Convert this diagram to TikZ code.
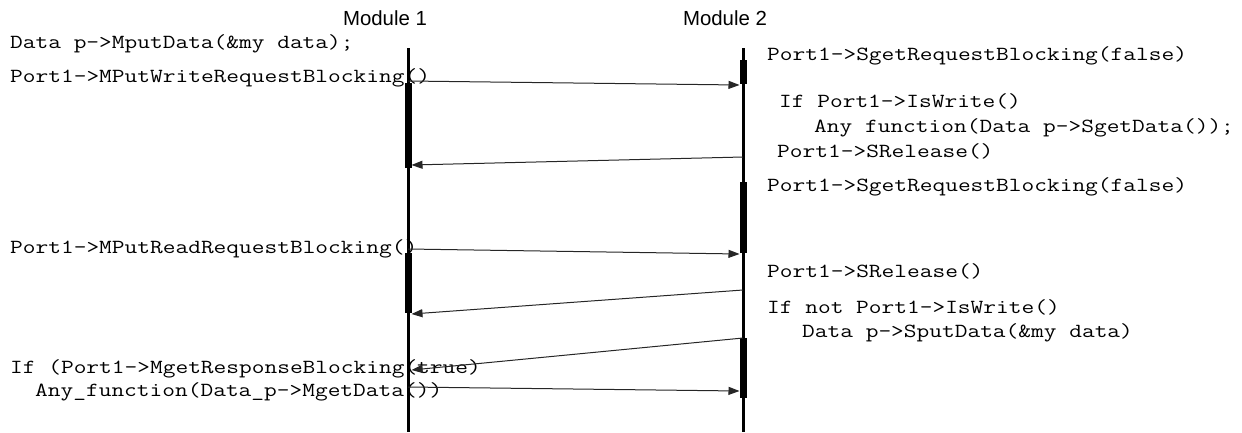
\documentclass[tikz,border=0pt]{standalone}
\usepackage{fontspec}
\setmainfont{Liberation Sans}
\setmonofont[FakeStretch=1.235]{Latin Modern Mono}
\usetikzlibrary{arrows.meta}
\begin{document}
\begin{tikzpicture}[x=1pt,y=-1pt,
  code/.style={anchor=base west, inner sep=0pt, font=\ttfamily\fontsize{20}{25}\selectfont},
  modlabel/.style={inner sep=0pt, font=\fontsize{20.4}{24}\selectfont},
  lifeline/.style={line width=3pt},
  actbar/.style={fill=black, draw=none, inner sep=0pt, minimum width=7pt},
  msg/.style={line width=1pt, draw=black!85, -{Triangle[length=11pt,width=8pt]}},
]
\useasboundingbox (0,0) rectangle (1242,432);

% module headers
\node[modlabel] (m1) at (385,18) {Module 1};
\node[modlabel] (m2) at (725,18) {Module 2};

% master side code
\node[code] (t1) at (10,48.5) {Data p->MputData(\&my data);};
\node[code] (t2) at (10,82) {Port1->MPutWriteRequestBlocking()};
\node[code] (t3) at (10,253) {Port1->MPutReadRequestBlocking()};
\node[code] (t4) at (10,373) {If (Port1->MgetResponseBlocking(true)};
\node[code] (t5) at (35,396) {Any\_function(Data\_p->MgetData())};

% slave side code
\node[code] (r1) at (767,60) {Port1->SgetRequestBlocking(false)};
\node[code] (r2) at (779,107.5) {If Port1->IsWrite()};
\node[code] (r3) at (814,132.5) {Any function(Data p->SgetData());};
\node[code] (r4) at (777,157.5) {Port1->SRelease()};
\node[code] (r5) at (767,191.5) {Port1->SgetRequestBlocking(false)};
\node[code] (r6) at (767,277) {Port1->SRelease()};
\node[code] (r7) at (767,313) {If not Port1->IsWrite()};
\node[code] (r8) at (802,337.5) {Data p->SputData(\&my data)};

% lifelines
\coordinate (l1top) at (408,48);
\coordinate (l1bot) at (408,432);
\coordinate (l2top) at (743,48);
\coordinate (l2bot) at (743,432);
\draw[lifeline] (l1top) -- (l1bot);
\draw[lifeline] (l2top) -- (l2bot);

% activation bars
\node[actbar, minimum height=24pt] (b21) at (743,72) {};
\node[actbar, minimum height=85pt] (b11) at (408,125.5) {};
\node[actbar, minimum height=71pt] (b22) at (743,217.5) {};
\node[actbar, minimum height=60pt] (b12) at (408,283) {};
\node[actbar, minimum height=60pt] (b23) at (743,368) {};

% message end points
\coordinate (a1s) at (408,81);   \coordinate (a1e) at (739.5,85);
\coordinate (a2s) at (743,157);  \coordinate (a2e) at (411.5,165);
\coordinate (a3s) at (408,249);  \coordinate (a3e) at (739.5,254);
\coordinate (a4s) at (743,290);  \coordinate (a4e) at (411.5,314);
\coordinate (a5s) at (743,338);  \coordinate (a5e) at (411.5,370);
\coordinate (a6s) at (408,387);  \coordinate (a6e) at (739.5,391);

\draw[msg] (a1s) -- (a1e);
\draw[msg] (a2s) -- (a2e);
\draw[msg] (a3s) -- (a3e);
\draw[msg] (a4s) -- (a4e);
\draw[msg] (a5s) -- (a5e);
\draw[msg] (a6s) -- (a6e);
\end{tikzpicture}
\end{document}
